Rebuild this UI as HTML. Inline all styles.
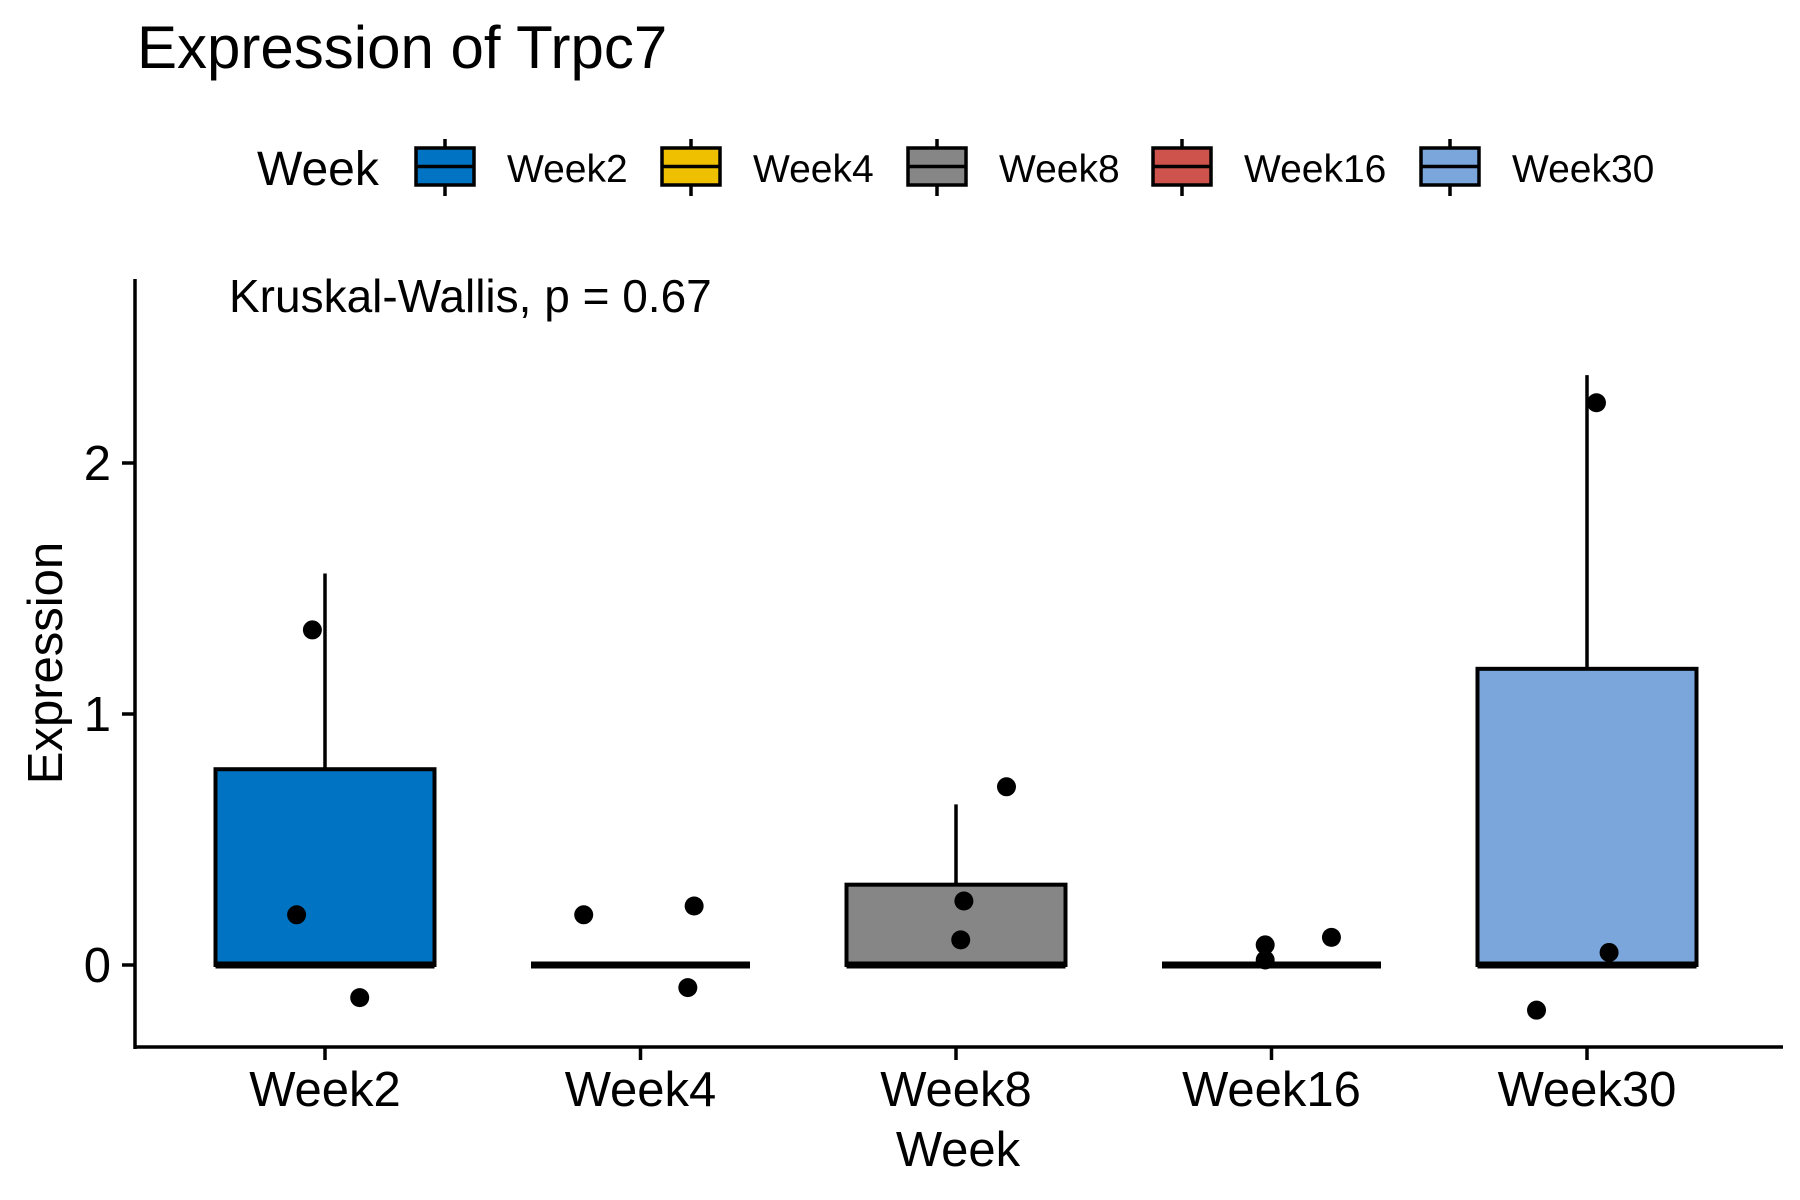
<!DOCTYPE html>
<html><head><meta charset="utf-8"><style>
html,body{margin:0;padding:0;background:#fff;}
svg{display:block;font-family:"Liberation Sans",Arial,sans-serif;}
</style></head><body>
<svg id="chart" width="1800" height="1200" viewBox="0 0 1800 1200">
<text x="137" y="68" font-size="60">Expression of Trpc7</text>
<g id="legend">
<text x="257" y="185" font-size="48">Week</text>
</g>
<g id="plot"></g>
<text x="229" y="312" font-size="46">Kruskal-Wallis, p = 0.67</text>
<text x="958" y="1166" font-size="49" text-anchor="middle">Week</text>
<text transform="translate(62,663) rotate(-90)" font-size="49" text-anchor="middle">Expression</text>
</svg>
<script>
const categories = ["Week2","Week4","Week8","Week16","Week30"];
const colors = ["#0073C2","#EFC000","#868686","#CD534C","#7AA6DC"];
const q1 = [0,0,0,0,0];
const medians = [0,0,0,0,0];
const q3 = [0.78,0,0.32,0,1.18];
const whiskerLow = [0,0,0,0,0];
const whiskerHigh = [1.56,0,0.64,0,2.35];
const pointValues = [[1.335,0.20,-0.13],[0.20,0.235,-0.09],[0.71,0.255,0.10],[0.08,0.11,0.02],[2.24,0.05,-0.18]];
const pointJitter = [[-0.04,-0.09,0.11],[-0.18,0.17,0.15],[0.16,0.025,0.015],[-0.02,0.19,-0.02],[0.03,0.07,-0.16]];
const yTicks = [0,1,2];

const NS="http://www.w3.org/2000/svg";
const plot=document.getElementById('plot');
const legend=document.getElementById('legend');
const xScale=i=>325+i*315.5;
const yScale=v=>965-v*251;
const boxHalf=109.5;
function mk(tag,attrs,parent){const e=document.createElementNS(NS,tag);for(const k in attrs)e.setAttribute(k,attrs[k]);(parent||plot).appendChild(e);return e;}

let ax=mk('line',{x1:135,y1:279,x2:135,y2:1049,stroke:'#000','stroke-width':3.5});


ax=mk('line',{x1:133.5,y1:1047,x2:1783,y2:1047,stroke:'#000','stroke-width':3.5});


yTicks.forEach(t=>{
  const y=yScale(t);
  const tk=mk('line',{x1:122,y1:y,x2:135,y2:y,stroke:'#000','stroke-width':3.5});
  
  
  const lb=mk('text',{x:111,y:y+17,'font-size':49,'text-anchor':'end'});
  lb.textContent=t;
  
  
});
categories.forEach((c,i)=>{
  const x=xScale(i);
  const tk=mk('line',{x1:x,y1:1047,x2:x,y2:1060,stroke:'#000','stroke-width':3.5});
  
  
  const lb=mk('text',{x:x,y:1106,'font-size':49,'text-anchor':'middle'});
  lb.textContent=c;
  
  
  if(whiskerHigh[i]>q3[i]){
    const w=mk('line',{x1:x,y1:yScale(q3[i]),x2:x,y2:yScale(whiskerHigh[i]),stroke:'#000','stroke-width':3.5});
    
    
  }
  if(whiskerLow[i]<q1[i]){
    const w=mk('line',{x1:x,y1:yScale(q1[i]),x2:x,y2:yScale(whiskerLow[i]),stroke:'#000','stroke-width':3.5});
    
    
  }
  const b=mk('rect',{x:x-boxHalf,y:yScale(q3[i]),width:boxHalf*2,height:Math.max(0,yScale(q1[i])-yScale(q3[i])),fill:colors[i],stroke:'#000','stroke-width':4});
  
  
  const m=mk('line',{x1:x-boxHalf,y1:yScale(medians[i]),x2:x+boxHalf,y2:yScale(medians[i]),stroke:'#000','stroke-width':7});
  
  
});
pointValues.forEach((arr,i)=>{
  arr.forEach((v,j)=>{
    const p=mk('circle',{cx:xScale(i+pointJitter[i][j]),cy:yScale(v),r:9.5,fill:'#000'});
    
    
  });
});
const keyX=[416,662,908,1153,1421];
categories.forEach((c,i)=>{
  const x=keyX[i];
  const g=mk('g',{},legend);
  
  
  mk('line',{x1:x+29,y1:139,x2:x+29,y2:196,stroke:'#000','stroke-width':3.5},g);
  mk('rect',{x:x,y:148,width:58,height:37,fill:colors[i],stroke:'#000','stroke-width':3.5},g);
  mk('line',{x1:x,y1:166.5,x2:x+58,y2:166.5,stroke:'#000','stroke-width':3.5},g);
  const t=mk('text',{x:x+91,y:182,'font-size':39},g);
  t.textContent=c;
});
</script>
</body></html>
